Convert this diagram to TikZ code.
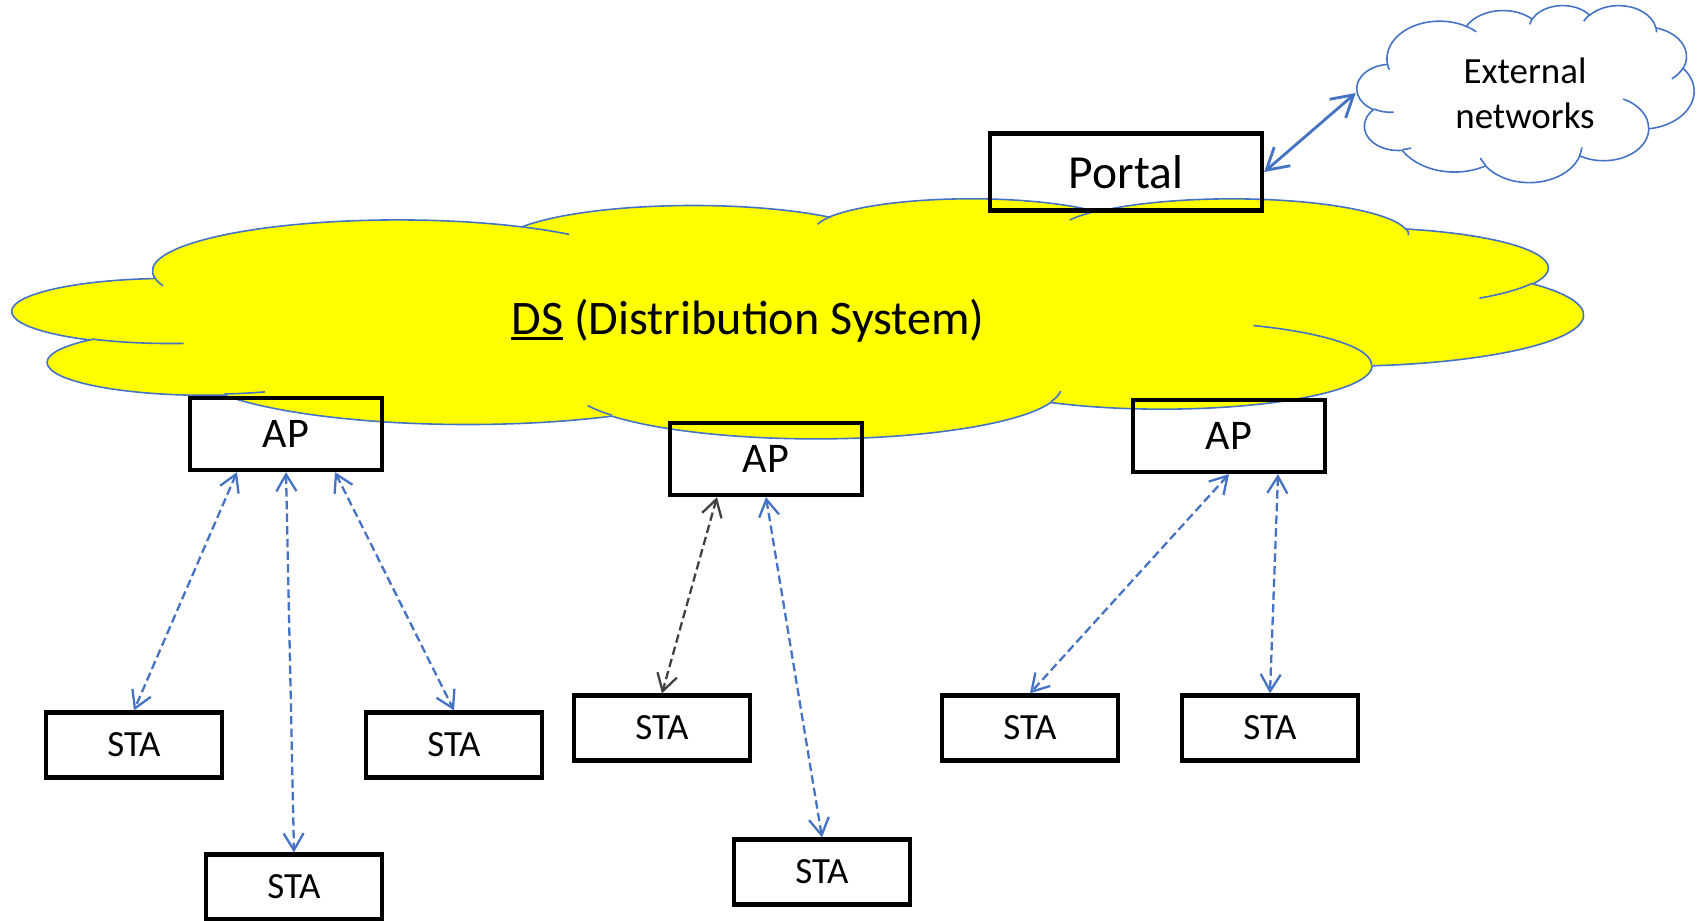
\documentclass[tikz,border=0pt]{standalone}
\usepackage{fontspec}
\setmainfont{Carlito}
\usepackage{xcolor}
\usepackage{tikz}
\usetikzlibrary{arrows.meta}

\definecolor{cloudblue}{HTML}{4472C4}
\definecolor{dsyellow}{HTML}{FFFF00}
\definecolor{arrowgray}{HTML}{404040}
\newcommand{\dsline}[1]{\setbox0\hbox{#1}\rlap{\rule[-1.6pt]{\wd0}{0.8pt}}#1}

% one lobe of the cloud: x radius, y radius, start angle, sweep
\newcommand{\lobe}[4]{arc[x radius=#1, y radius=#2,
  start angle={atan2(#1*sin(#3),#2*cos(#3))},
  delta angle={mod(atan2(#1*sin(#3+#4),#2*cos(#3+#4))-atan2(#1*sin(#3),#2*cos(#3))+720,360)}]}
% cloud outline in a 432 x 432 box
\newcommand{\cloudpath}{(39,143.7)
  \lobe{67.53}{91.90}{-190.4875}{123.7805}
  \lobe{53.33}{72.67}{-144.1024}{89.9452}
  \lobe{43.65}{59.45}{-145.8079}{99.7230}
  \lobe{48.57}{65.95}{-130.9861}{117.2417}
  \lobe{53.33}{72.73}{-78.7089}{109.0269}
  \lobe{67.75}{92.20}{-46.2673}{130.2690}
  \lobe{57.85}{78.67}{0.6250}{114.0333}
  \lobe{67.52}{92.15}{22.4516}{115.1726}
  \lobe{77.20}{105.43}{66.2426}{75.7110}
  \lobe{43.60}{59.18}{-274.9421}{146.7356}
  \lobe{43.45}{59.45}{-246.8285}{152.5189}
  -- cycle}
\newcommand{\cloudtails}{
  (46.93,261.77)  \lobe{43.45}{59.45}{86.742}{26.4295}
  (69.28,348.99)  \lobe{43.60}{59.18}{73.6105}{11.4475}
  (164.78,390.90) \lobe{67.52}{92.15}{137.6242}{14.0811}
  (288.27,347.51) \lobe{67.52}{92.15}{6.4533}{15.9984}
  (341.29,229.54) \lobe{57.85}{78.67}{-70.2924}{70.9174}
  (417.98,153.54) \lobe{53.33}{72.73}{30.3180}{27.7515}
  (383.24,54.26)  \lobe{48.57}{65.95}{-13.7443}{14.8589}
  (290.78,39.52)  \lobe{48.57}{65.95}{-149.1815}{18.1954}
  (221.41,47.20)  \lobe{43.65}{59.45}{-163.4943}{17.6864}
  (140.00,51.92)  \lobe{67.53}{91.90}{-66.7070}{12.3194}
  (41.27,157.89)  \lobe{67.53}{91.90}{157.6544}{11.8582}}

\begin{document}
\begin{tikzpicture}[x=0.01cm,y=-0.01cm,
    cloudline/.style={draw=cloudblue,line width=0.45pt},
    box/.style={draw,line width=1.2pt,inner sep=0pt},
    apbox/.style={box,minimum width=1.92cm,minimum height=0.72cm,font=\fontsize{12}{14}\selectfont},
    stabox/.style={box,minimum width=1.76cm,minimum height=0.65cm,font=\fontsize{10.5}{12}\selectfont},
    link/.style={<->,>={Straight Barb[length=4.8pt,width=5.7pt]},cloudblue,line width=0.65pt,dash pattern=on 2.4pt off 1.2pt}]
\useasboundingbox (0,0) rectangle (1702,920);

% distribution system cloud
\begin{scope}[shift={(13,198)},xscale=1570/432,yscale=240/432]
  \path[cloudline,fill=dsyellow] \cloudpath;
  \draw[cloudline] \cloudtails;
\end{scope}

% external networks cloud
\begin{scope}[shift={(1357,5)},xscale=337/432,yscale=177/432]
  \path[cloudline,fill=white] \cloudpath;
  \draw[cloudline] \cloudtails;
\end{scope}

\node[anchor=base,font=\fontsize{13.7}{16.5}\selectfont] (ds) at (748,334) {\dsline{DS} (Distribution System)};
\node[align=center,minimum width=3.37cm,minimum height=1.77cm,font=\fontsize{10.5}{12.8}\selectfont] (ext) at (1525,93) {External\\networks};
\node[box,minimum width=2.72cm,minimum height=0.77cm,font=\fontsize{13.5}{16}\selectfont] (portal) at (1126,172) {Portal};

\node[apbox]   (ap1)  at (286,434)  {AP};
\node[apbox]   (ap2)  at (766,459)  {AP};
\node[apbox]   (ap3)  at (1229,436) {AP};

\node[stabox]  (sta1) at (134,745)  {STA};
\node[stabox]  (sta2) at (294,887)  {STA};
\node[stabox]  (sta3) at (454,745)  {STA};
\node[stabox]  (sta4) at (662,728)  {STA};
\node[stabox]  (sta5) at (822,872)  {STA};
\node[stabox]  (sta6) at (1030,728) {STA};
\node[stabox]  (sta7) at (1270,728) {STA};

\path[<->,>={Straight Barb[length=6pt,width=7pt]},cloudblue,line width=0.8pt]
    (portal.east) edge (ext.west);

\path[link]
    ([xshift=-4.9mm]ap1.south) edge (sta1.north)
    (ap1.south)                edge (sta2.north)
    ([xshift=4.9mm]ap1.south)  edge (sta3.north)
    (ap2.south)                edge (sta5.north)
    (ap3.south)                edge (sta6.north)
    ([xshift=4.9mm]ap3.south)  edge (sta7.north);

\path[link,arrowgray]
    ([xshift=-4.9mm]ap2.south) edge (sta4.north);
\end{tikzpicture}
\end{document}
